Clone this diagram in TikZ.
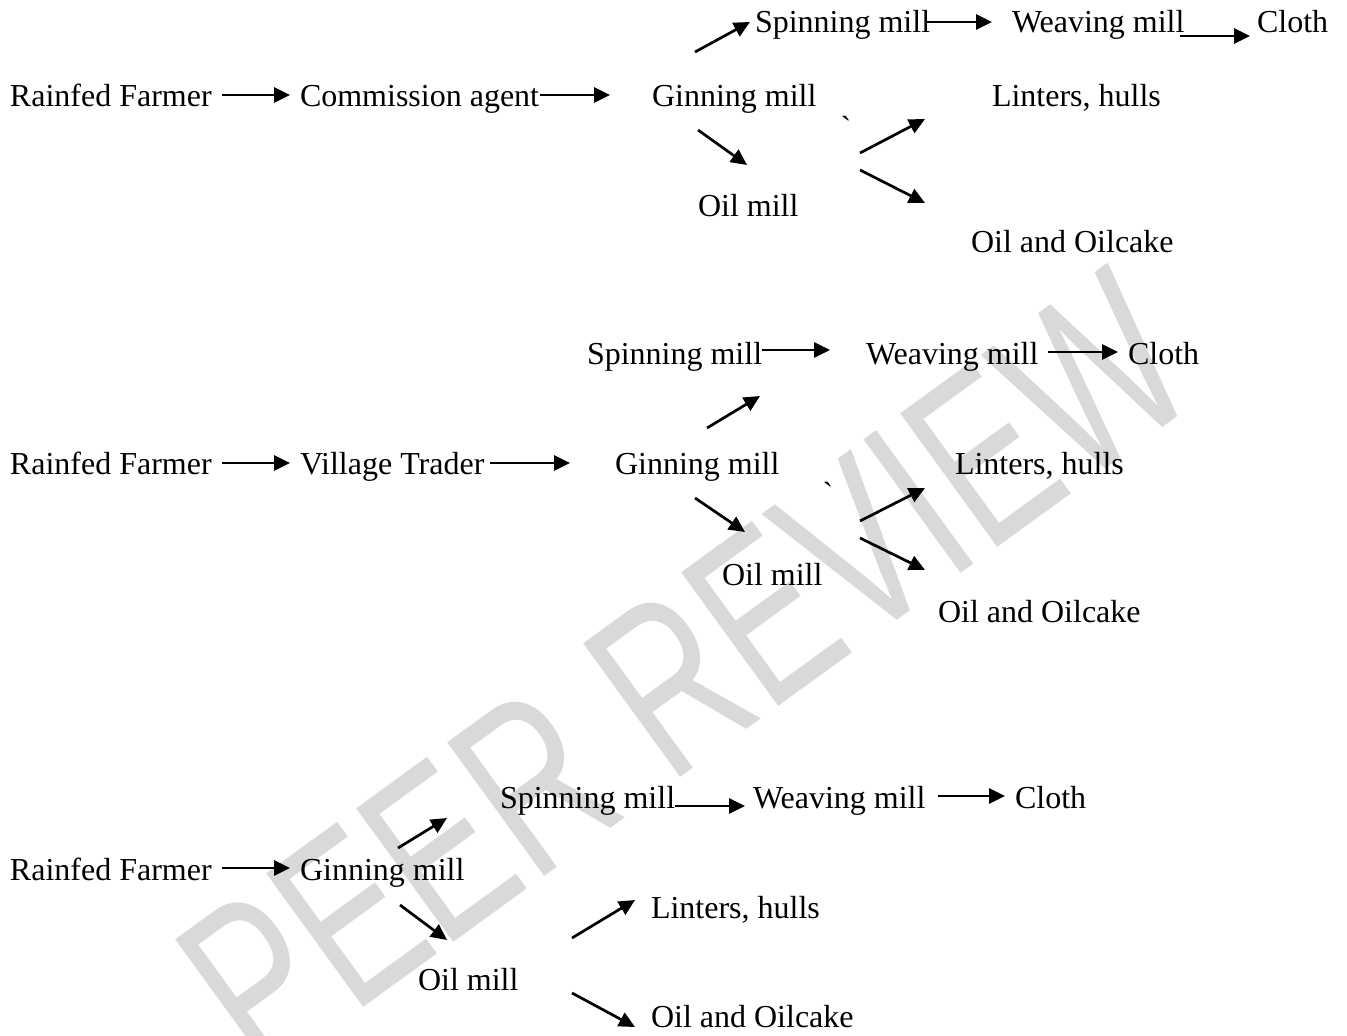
\documentclass[tikz,border=0pt]{standalone}
\usepackage{fontspec}
\setmainfont{Liberation Serif}
\newfontfamily\wmfont{Liberation Sans}
\usetikzlibrary{arrows.meta}
\newcommand\gravemark{\XeTeXglyph\XeTeXcharglyph"60\relax}
\tikzset{
  lbl/.style={anchor=base west, inner sep=0pt, outer sep=0pt, font=\fontsize{16}{19}\selectfont},
  tick/.style={anchor=center, inner sep=0pt, font=\fontsize{16}{19}\selectfont},
  flow/.style={line width=1.35pt, -{Triangle[length=8pt,width=7.5pt]}},
  wmark/.style={inner sep=0pt, text=black!15, font=\wmfont\fontsize{120}{130}\selectfont}
}
\begin{document}
\begin{tikzpicture}[x=0.5pt,y=-0.5pt]
\useasboundingbox (0,0) rectangle (1347,1036);
\fill[white] (0,0) rectangle (1347,1036);
% watermark
\node[wmark, rotate=36] (wm) at (685,672) {\scalebox{0.7}[1]{PEER REVIEW}};

% ---------- Row 1 ----------
\node[lbl] (farmerA) at (10,107) {Rainfed Farmer};
\node[lbl] (commA) at (300,107) {Commission agent};
\node[lbl] (ginA) at (652,107) {Ginning mill};
\node[lbl] (spinA) at (755,33) {Spinning mill};
\node[lbl] (weaveA) at (1012,33) {Weaving mill};
\node[lbl] (clothA) at (1257,33) {Cloth};
\node[lbl] (lintA) at (992,107) {Linters, hulls};
\node[lbl] (oilA) at (698,217) {Oil mill};
\node[lbl] (cakeA) at (971,253) {Oil and Oilcake};
\node[tick] (tickA) at (846,127) {\gravemark};

\coordinate (a1s) at (222,95);  \coordinate (a1e) at (290,95);
\coordinate (a2s) at (540,95);  \coordinate (a2e) at (610,95);
\coordinate (a3s) at (695,52);  \coordinate (a3e) at (750,22);
\coordinate (a4s) at (927,22);  \coordinate (a4e) at (992,22);
\coordinate (a5s) at (1180,36); \coordinate (a5e) at (1250,36);
\coordinate (a6s) at (698,130); \coordinate (a6e) at (747,165);
\coordinate (a7s) at (860,153); \coordinate (a7e) at (925,119);
\coordinate (a8s) at (860,170); \coordinate (a8e) at (925,203);
\foreach \i in {1,...,8} \draw[flow] (a\i s) -- (a\i e);

% ---------- Row 2 ----------
\node[lbl] (farmerB) at (10,475) {Rainfed Farmer};
\node[lbl] (tradeB) at (300,475) {Village Trader};
\node[lbl] (ginB) at (615,475) {Ginning mill};
\node[lbl] (spinB) at (587,365) {Spinning mill};
\node[lbl] (weaveB) at (866,365) {Weaving mill};
\node[lbl] (clothB) at (1128,365) {Cloth};
\node[lbl] (lintB) at (955,475) {Linters, hulls};
\node[lbl] (oilB) at (722,585) {Oil mill};
\node[lbl] (cakeB) at (938,622) {Oil and Oilcake};
\node[tick] (tickB) at (828,493) {\gravemark};

\coordinate (b1s) at (222,463);  \coordinate (b1e) at (290,463);
\coordinate (b2s) at (490,463);  \coordinate (b2e) at (570,463);
\coordinate (b3s) at (707,428);  \coordinate (b3e) at (760,396);
\coordinate (b4s) at (762,350);  \coordinate (b4e) at (830,350);
\coordinate (b5s) at (1048,352); \coordinate (b5e) at (1118,352);
\coordinate (b6s) at (695,498);  \coordinate (b6e) at (745,532);
\coordinate (b7s) at (860,521);  \coordinate (b7e) at (925,488);
\coordinate (b8s) at (860,538);  \coordinate (b8e) at (925,570);
\foreach \i in {1,...,8} \draw[flow] (b\i s) -- (b\i e);

% ---------- Row 3 ----------
\node[lbl] (farmerC) at (10,880) {Rainfed Farmer};
\node[lbl] (ginC) at (300,880) {Ginning mill};
\node[lbl] (spinC) at (500,808) {Spinning mill};
\node[lbl] (weaveC) at (753,808) {Weaving mill};
\node[lbl] (clothC) at (1015,808) {Cloth};
\node[lbl] (lintC) at (651,918) {Linters, hulls};
\node[lbl] (oilC) at (418,990) {Oil mill};
\node[lbl] (cakeC) at (651,1027) {Oil and Oilcake};

\coordinate (c1s) at (222,868);  \coordinate (c1e) at (290,868);
\coordinate (c2s) at (675,806);  \coordinate (c2e) at (745,806);
\coordinate (c3s) at (938,796);  \coordinate (c3e) at (1005,796);
\coordinate (c4s) at (398,848);  \coordinate (c4e) at (447,818);
\coordinate (c5s) at (400,905);  \coordinate (c5e) at (447,940);
\coordinate (c6s) at (572,938);  \coordinate (c6e) at (635,900);
\coordinate (c7s) at (572,993);  \coordinate (c7e) at (635,1027);
\foreach \i in {1,...,7} \draw[flow] (c\i s) -- (c\i e);
\end{tikzpicture}
\end{document}
